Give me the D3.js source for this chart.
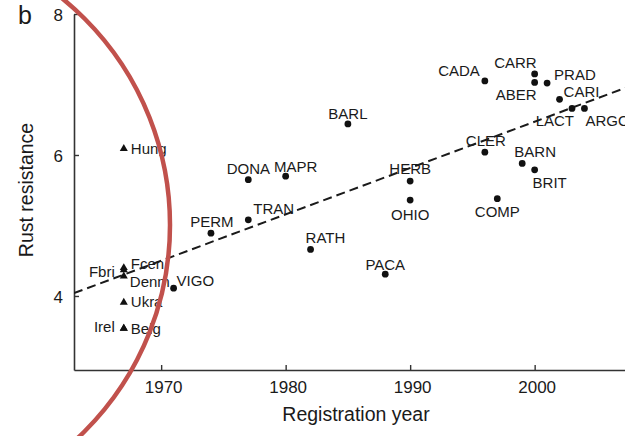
<!DOCTYPE html>
<html>
<head>
<meta charset="utf-8">
<script src="https://cdn.jsdelivr.net/npm/d3@7"></script>
<style>
  html, body { margin: 0; padding: 0; background: #fff; }
  svg { display: block; }
  text { font-family: "Liberation Sans", Arial, Helvetica, sans-serif; fill: #1a1a1a; }
</style>
</head>
<body>
<svg id="chart" width="625" height="436"></svg>
<script>
// ---------- data ----------
const varieties = ["Hung","Fbri","Fcen","Denm","Ukra","Irel","Belg",
  "VIGO","PERM","TRAN","DONA","MAPR","RATH","BARL","PACA","HERB","OHIO",
  "CLER","CADA","COMP","BARN","BRIT","CARR","ABER","PRAD","CARI","LACT","ARGO"];
const years = [1967,1967,1967,1967,1967,1967,1967,
  1971,1974,1977,1977,1980,1982,1985,1988,1990,1990,
  1996,1996,1997,1999,2000,2000,2000,2001,2002,2003,2004];
const resistance = [6.09,4.37,4.40,4.28,3.91,3.54,3.54,
  4.11,4.89,5.08,5.65,5.70,4.66,6.44,4.31,5.63,5.36,
  6.04,7.05,5.38,5.88,5.79,7.15,7.03,7.02,6.79,6.66,6.66];
const markerType = ["tri","tri","tri","tri","tri","tri","tri",
  "dot","dot","dot","dot","dot","dot","dot","dot","dot","dot",
  "dot","dot","dot","dot","dot","dot","dot","dot","dot","dot","dot"];
const xTicks = [1970, 1980, 1990, 2000];
const yTicks = [4, 6, 8];
const trendYears = [1963, 2010];
const trendValues = [4.04, 7.13];

// ---------- label placement (layout only) ----------
const labelPos = {
  Hung:{dx:7,dy:0,a:"start"}, Fbri:{dx:-9,dy:2,a:"end"}, Fcen:{dx:7,dy:-4,a:"start"},
  Denm:{dx:6,dy:5,a:"start"}, Ukra:{dx:7,dy:-1,a:"start"}, Irel:{dx:-9,dy:-2,a:"end"},
  Belg:{dx:7,dy:0,a:"start"}, VIGO:{dx:3,dy:-8,a:"start"}, PERM:{dx:1,dy:-12,a:"middle"},
  TRAN:{dx:5,dy:-11,a:"start"}, DONA:{dx:0,dy:-11,a:"middle"}, MAPR:{dx:10,dy:-10,a:"middle"},
  RATH:{dx:-5,dy:-12,a:"start"}, BARL:{dx:0,dy:-10,a:"middle"}, PACA:{dx:0,dy:-10,a:"middle"},
  HERB:{dx:0,dy:-12,a:"middle"}, OHIO:{dx:0,dy:14,a:"middle"}, CLER:{dx:1,dy:-12,a:"middle"},
  CADA:{dx:-5,dy:-10,a:"end"}, COMP:{dx:0,dy:13,a:"middle"}, BARN:{dx:13,dy:-12,a:"middle"},
  BRIT:{dx:15,dy:13,a:"middle"}, CARR:{dx:2,dy:-11,a:"end"}, ABER:{dx:2,dy:12,a:"end"},
  PRAD:{dx:7,dy:-8,a:"start"}, CARI:{dx:4,dy:-8,a:"start"}, LACT:{dx:2,dy:12,a:"end"},
  ARGO:{dx:1,dy:12,a:"start"}
};

// ---------- scales ----------
const svg = d3.select("#chart");
const x = d3.scaleLinear().domain([1963, 2010]).range([74, 74 + 47 * 12.45]);
const y = d3.scaleLinear().domain([2.95, 8]).range([370, 14]);
const axisColor = "#333";

// axes
const xAxis = svg.append("g").attr("transform", "translate(0,370)")
  .call(d3.axisBottom(x).tickValues(xTicks).tickFormat(d3.format("d")).tickSizeInner(-5).tickSizeOuter(0).tickPadding(11));
const yAxis = svg.append("g").attr("transform", "translate(74,0)")
  .call(d3.axisLeft(y).tickValues(yTicks).tickFormat(d3.format("d")).tickSizeInner(-5).tickSizeOuter(0).tickPadding(11));
[xAxis, yAxis].forEach(g => {
  g.select(".domain").attr("stroke", axisColor).attr("stroke-width", 1.6);
  g.selectAll(".tick line").attr("stroke", axisColor).attr("stroke-width", 1.4);
  g.selectAll(".tick text").attr("font-size", 17).attr("fill", "#1a1a1a")
    .attr("font-family", '"Liberation Sans", Arial, Helvetica, sans-serif');
});
xAxis.selectAll(".tick text").attr("dx", 2);
yAxis.selectAll(".tick text").attr("dy", "0.4em");

// axis titles
svg.append("text").attr("x", 356).attr("y", 421).attr("text-anchor", "middle")
  .attr("font-size", 19.5).text("Registration year");
svg.append("text").attr("transform", "translate(33,190) rotate(-90)").attr("text-anchor", "middle")
  .attr("font-size", 19.5).text("Rust resistance");
svg.append("text").attr("x", 25).attr("y", 24).attr("text-anchor", "middle")
  .attr("font-size", 25).text("b");

// trend line
svg.append("clipPath").attr("id", "plotclip").append("rect")
  .attr("x", 74).attr("y", 0).attr("width", 551).attr("height", 370);
svg.append("path")
  .datum(trendYears.map((t, i) => [t, trendValues[i]]))
  .attr("clip-path", "url(#plotclip)")
  .attr("d", d3.line().x(d => x(d[0])).y(d => y(d[1])))
  .attr("fill", "none").attr("stroke", "#1a1a1a").attr("stroke-width", 2)
  .attr("stroke-dasharray", "9,5");

// markers
const pts = varieties.map((n, i) => ({name: n, year: years[i], val: resistance[i], type: markerType[i]}));
svg.append("g").selectAll("path").data(pts).join("path")
  .attr("transform", d => `translate(${x(d.year)},${y(d.val)})`)
  .attr("d", d => d.type === "tri"
      ? d3.symbol().type(d3.symbolTriangle).size(28)()
      : d3.symbol().type(d3.symbolCircle).size(36)())
  .attr("fill", "#111");

// labels
svg.append("g").selectAll("text").data(pts).join("text")
  .attr("x", d => x(d.year) + labelPos[d.name].dx)
  .attr("y", d => y(d.val) + labelPos[d.name].dy)
  .attr("dy", "0.36em")
  .attr("text-anchor", d => labelPos[d.name].a)
  .attr("font-size", 15)
  .text(d => d.name);

// red annotation arc
svg.append("circle").attr("cx", -122).attr("cy", 225).attr("r", 292)
  .attr("fill", "none").attr("stroke", "#c1514c").attr("stroke-width", 4.5);
</script>
</body>
</html>
